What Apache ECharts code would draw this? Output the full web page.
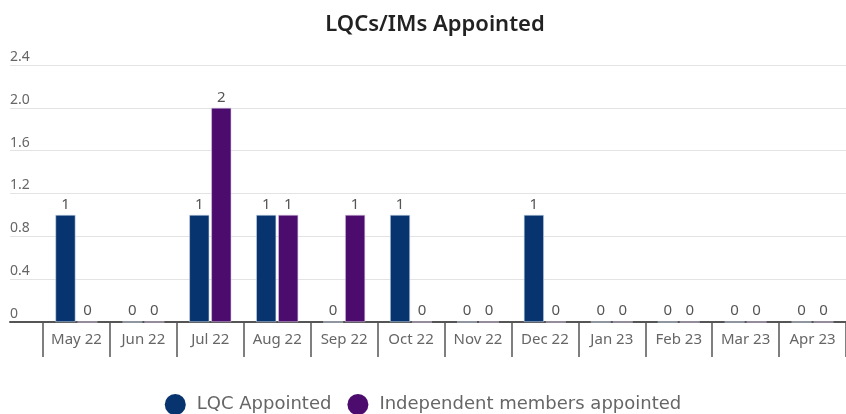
<!DOCTYPE html>
<html>
<head>
<meta charset="utf-8">
<script src="https://cdn.jsdelivr.net/npm/echarts@6/dist/echarts.min.js"></script>
<style>
  html, body { margin: 0; padding: 0; background: #fff; }
  #chart { width: 846px; height: 414px; }
</style>
</head>
<body>
<div id="chart"></div>
<script>
const months = ['May 22', 'Jun 22', 'Jul 22', 'Aug 22', 'Sep 22', 'Oct 22', 'Nov 22', 'Dec 22', 'Jan 23', 'Feb 23', 'Mar 23', 'Apr 23']
const lqcAppointed = [1, 0, 1, 1, 0, 1, 0, 1, 0, 0, 0, 0]
const imAppointed = [0, 0, 2, 1, 1, 0, 0, 0, 0, 0, 0, 0]
const yMin = 0
const yMax = 2.4
const yStep = 0.4

const chart = echarts.init(document.getElementById('chart'))

const labelStyle = {
  show: true,
  position: 'top',
  distance: 3,
  color: '#555',
  fontSize: 15,
  fontFamily: 'Noto Sans'
}

const option = {
  animation: false,
  title: {
    text: 'LQCs/IMs Appointed',
    left: 430,
    textAlign: 'center',
    top: 9,
    textStyle: { fontFamily: 'Noto Sans', fontWeight: 600, fontSize: 22, color: '#222' }
  },
  legend: {
    top: 389,
    left: 'center',
    icon: 'circle',
    itemWidth: 21,
    itemHeight: 21,
    itemGap: 16,
    itemStyle: { borderWidth: 0 },
    textStyle: { fontFamily: 'DejaVu Sans', fontSize: 18, color: '#666', padding: [0, 0, 0, 6] },
    data: ['LQC Appointed', 'Independent members appointed']
  },
  grid: [
    // bars
    { left: 43, right: 0, top: 65, bottom: 92 },
    // gridlines + y labels, a bit wider to the left
    { left: 10, right: 0, top: 65, bottom: 92 }
  ],
  xAxis: [
    {
      type: 'category',
      gridIndex: 0,
      data: months,
      axisLine: { show: false },
      axisTick: { show: true, length: 35, interval: 0, lineStyle: { color: '#555', width: 1.5 } },
      axisLabel: { interval: 0, color: '#666', fontSize: 15, fontFamily: 'Noto Sans', margin: 10 }
    },
    {
      type: 'value',
      gridIndex: 1,
      min: 0,
      max: 1,
      axisLine: { show: true, onZero: false, lineStyle: { color: '#555', width: 2 } },
      axisTick: { show: false },
      axisLabel: { show: false },
      splitLine: { show: false }
    }
  ],
  yAxis: [
    {
      type: 'value',
      gridIndex: 0,
      min: yMin,
      max: yMax,
      interval: yStep,
      show: false
    },
    {
      type: 'value',
      gridIndex: 1,
      min: yMin,
      max: yMax,
      interval: yStep,
      axisLine: { show: false },
      axisTick: { show: false },
      splitLine: { lineStyle: { color: '#e3e3e3', width: 1 } },
      axisLabel: {
        inside: true,
        margin: 0,
        verticalAlign: 'bottom',
        padding: [0, 0, 1, 0],
        color: '#666',
        fontSize: 14,
        fontFamily: 'Noto Sans',
        formatter: v => (v === 0 ? '0' : v.toFixed(1))
      }
    }
  ],
  series: [
    {
      name: 'LQC Appointed',
      type: 'bar',
      xAxisIndex: 0,
      yAxisIndex: 0,
      data: lqcAppointed,
      barWidth: 20,
      barGap: '10%',
      itemStyle: { color: '#07336e', borderColor: '#c9d6ea', borderWidth: 0.6 },
      label: labelStyle
    },
    {
      name: 'Independent members appointed',
      type: 'bar',
      xAxisIndex: 0,
      yAxisIndex: 0,
      data: imAppointed,
      barWidth: 20,
      barGap: '10%',
      itemStyle: { color: '#4b0c6e', borderColor: '#d3c4e0', borderWidth: 0.6 },
      label: labelStyle
    }
  ]
}

chart.setOption(option)
</script>
</body>
</html>
